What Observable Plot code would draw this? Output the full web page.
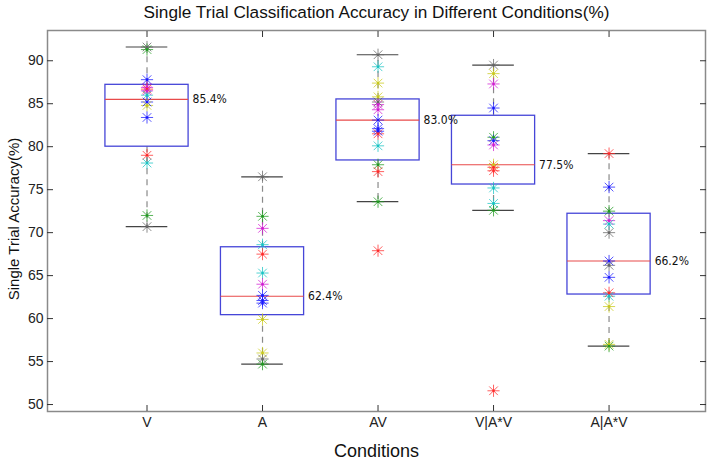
<!DOCTYPE html>
<html>
<head>
<meta charset="utf-8">
<script src="https://cdn.jsdelivr.net/npm/d3@7"></script>
<script src="https://cdn.jsdelivr.net/npm/@observablehq/plot@0.6"></script>
<style>
  html, body { margin: 0; padding: 0; background: #fff; }
  svg { font-family: "Liberation Sans", Arial, sans-serif; }
</style>
</head>
<body>
<div id="chart"></div>
<script>
// ---- data ----
const conditions = ["V", "A", "AV", "V|A*V", "A|A*V"];
const q1 = [80.0, 60.4, 78.4, 75.6, 62.8];
const q3 = [87.2, 68.3, 85.5, 83.6, 72.2];
const medians = [85.5, 62.6, 83.1, 77.9, 66.7];
const whiskerLow = [70.7, 54.7, 73.6, 72.6, 56.8];
const whiskerHigh = [91.6, 76.5, 90.7, 89.5, 79.2];
const medianLabels = ["85.4%", "62.4%", "83.0%", "77.5%", "66.2%"];
const yTicks = [50, 55, 60, 65, 70, 75, 80, 85, 90];

const valuesV = [91.6, 91.3, 87.8, 86.9, 86.7, 86.5, 86.0, 85.2, 84.8, 83.4, 79.0, 78.1, 72.0, 70.7];
const colorsV = ["k", "g", "b", "m", "r", "m", "c", "b", "y", "b", "r", "c", "g", "k"];
const valuesA = [76.5, 71.9, 70.5, 68.6, 67.5, 65.3, 64.0, 62.7, 62.1, 61.8, 59.9, 56.0, 55.3, 54.7];
const colorsA = ["k", "g", "m", "c", "r", "c", "m", "b", "b", "b", "y", "y", "k", "g"];
const valuesAV = [90.7, 89.3, 87.4, 85.8, 85.2, 84.9, 84.3, 83.1, 82.1, 81.8, 81.5, 80.1, 77.9, 77.1, 73.6, 67.9];
const colorsAV = ["k", "c", "y", "y", "k", "m", "m", "b", "b", "b", "r", "c", "g", "r", "g", "r"];
const valuesVAV = [89.5, 88.5, 87.3, 84.5, 81.1, 80.7, 80.2, 77.9, 77.6, 77.2, 75.2, 73.4, 72.6, 51.6];
const colorsVAV = ["k", "y", "m", "b", "g", "b", "m", "y", "r", "r", "c", "c", "g", "r"];
const valuesAAV = [79.2, 75.3, 72.5, 71.4, 71.0, 70.0, 66.7, 66.2, 64.8, 63.0, 62.6, 61.4, 57.0, 56.8];
const colorsAAV = ["r", "b", "g", "m", "c", "k", "b", "k", "b", "r", "c", "y", "y", "g"];

const colorMap = {r: "#ff2a2a", g: "#1f9a1f", b: "#1a1aff", c: "#19c4c4", m: "#d11dd1", y: "#c9c91a", k: "#666666"};

// ---- build tables ----
const boxes = conditions.map((c, i) => ({
  pos: i + 1, q1: q1[i], q3: q3[i], med: medians[i],
  lo: whiskerLow[i], hi: whiskerHigh[i], label: medianLabels[i]
}));
const groups = [[valuesV, colorsV], [valuesA, colorsA], [valuesAV, colorsAV], [valuesVAV, colorsVAV], [valuesAAV, colorsAAV]];
const points = groups.flatMap(([vals, cols], i) => vals.map((v, j) => ({pos: i + 1, v, color: colorMap[cols[j]]})));

const HALF = 0.36;   // half box width (x units)
const CAP = 0.18;    // half cap width

const chart = Plot.plot({
  width: 709,
  height: 461,
  marginLeft: 47,
  marginRight: 4,
  marginTop: 30,
  marginBottom: 50,
  style: {background: "#fff", fontFamily: "'Liberation Sans', Arial, sans-serif"},
  x: {type: "linear", domain: [0.1385, 5.835], ticks: [1, 2, 3, 4, 5]},
  y: {domain: [49.19, 93.52]},
  marks: [
    Plot.frame({stroke: "#8a8a8a", strokeWidth: 1.5}),
    Plot.axisY(yTicks, {anchor: "left", tickSize: -6, tickPadding: 10, label: null, fontSize: 14, color: "#222", stroke: "#333"}),
    Plot.axisY(yTicks, {anchor: "right", tickSize: -6, tickFormat: () => "", label: null, stroke: "#333"}),
    Plot.axisX([1, 2, 3, 4, 5], {anchor: "bottom", tickSize: -6, tickPadding: 12, label: null, tickFormat: d => conditions[d - 1], fontSize: 14, color: "#222", stroke: "#333"}),
    Plot.axisX([1, 2, 3, 4, 5], {anchor: "top", tickSize: -6, tickFormat: () => "", label: null, stroke: "#333"}),
    // whiskers
    Plot.ruleX(boxes, {x: "pos", y1: "q3", y2: "hi", stroke: "#8a8a8a", strokeWidth: 1.2, strokeDasharray: "6,5"}),
    Plot.ruleX(boxes, {x: "pos", y1: "q1", y2: "lo", stroke: "#8a8a8a", strokeWidth: 1.2, strokeDasharray: "6,5"}),
    // caps
    Plot.ruleY(boxes, {y: "hi", x1: d => d.pos - CAP, x2: d => d.pos + CAP, stroke: "#444", strokeWidth: 1.2}),
    Plot.ruleY(boxes, {y: "lo", x1: d => d.pos - CAP, x2: d => d.pos + CAP, stroke: "#444", strokeWidth: 1.2}),
    // boxes
    Plot.rect(boxes, {x1: d => d.pos - HALF, x2: d => d.pos + HALF, y1: "q1", y2: "q3", fill: "none", stroke: "#4646d8", strokeWidth: 1.3}),
    // medians
    Plot.ruleY(boxes, {y: "med", x1: d => d.pos - HALF, x2: d => d.pos + HALF, stroke: "#e84a4a", strokeWidth: 1.2}),
    // star markers
    Plot.dot(points, {x: "pos", y: "v", symbol: "plus", r: 4, stroke: "color", strokeWidth: 1, strokeOpacity: 0.75}),
    Plot.dot(points, {x: "pos", y: "v", symbol: "times", r: 4, stroke: "color", strokeWidth: 1, strokeOpacity: 0.75}),
    Plot.dot(points, {x: "pos", y: "v", r: 1.3, fill: "color", stroke: null}),
    // median labels
    Plot.text(boxes, {x: d => d.pos + HALF, y: "med", text: "label", dx: 4, textAnchor: "start", fontSize: 12, fill: "#111",
      fontFamily: "'Liberation Sans Narrow', 'Arial Narrow', 'DejaVu Sans Condensed', sans-serif"}),
    // titles
    Plot.text(["Single Trial Classification Accuracy in Different Conditions(%)"], {frameAnchor: "top", dy: -18, fontSize: 17.2, fill: "#111", lineAnchor: "middle", textAnchor: "middle"}),
    Plot.text(["Conditions"], {frameAnchor: "bottom", dy: 40, fontSize: 18, fill: "#111", lineAnchor: "middle", textAnchor: "middle"}),
    Plot.text(["Single Trial Accuracy(%)"], {frameAnchor: "left", dx: -33, dy: -2, rotate: -90, fontSize: 15, fill: "#111", lineAnchor: "middle", textAnchor: "middle"})
  ]
});
document.getElementById("chart").appendChild(chart);
</script>
</body>
</html>
